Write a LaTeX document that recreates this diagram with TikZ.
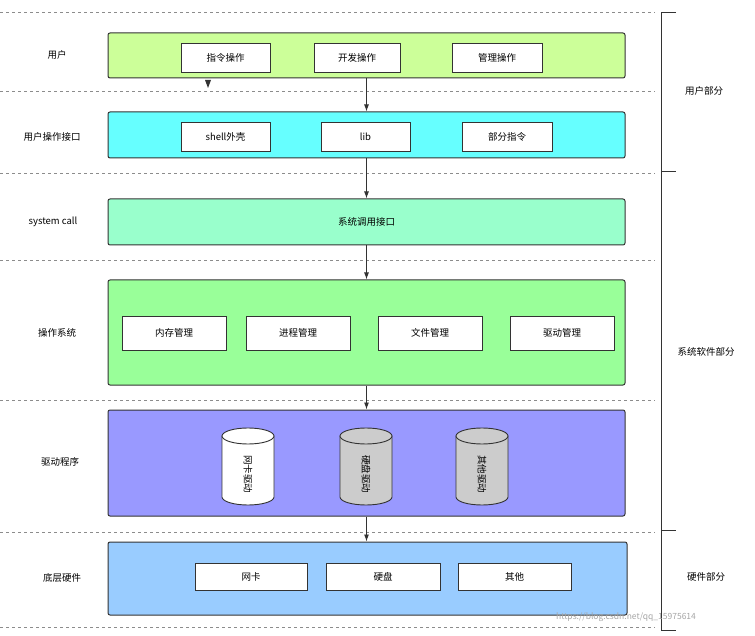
\documentclass[tikz,border=0pt]{standalone}
\usepackage{fontspec}
\setmainfont{Noto Sans CJK SC}
\usetikzlibrary{arrows.meta}
\begin{document}
\begin{tikzpicture}[x=1pt,y=-1pt,font=\fontsize{9.5}{11}\selectfont,
 layer/.style={draw=black!80,line width=1pt,rounded corners=2pt},
 inner/.style={draw=black!80,line width=0.8pt,fill=white,minimum height=29pt,inner sep=0pt},
 dline/.style={draw=black!45,dashed,line width=0.5pt},
 arr/.style={draw=black!80,line width=0.9pt,-{Latex[length=7pt,width=5pt]}}]
\useasboundingbox (0,0) rectangle (755,636);
\foreach \y in {12,91,173,260,400,532,627} \draw[dline] (0,\y) -- (655,\y);
% bracket
\draw[black!80,line width=0.9pt] (676,12) -- (661,12) -- (661,530) -- (676,530);
\draw[black!80,line width=0.9pt] (661,171) -- (676,171);
\draw[black!80,line width=0.9pt] (661,530) -- (661,630) -- (676,630);
\node (p1) at (704,91) {用户部分};
\node (p2) at (706,352) {系统软件部分};
\node (p3) at (706,577) {硬件部分};
% layers
\node[layer,fill={rgb,255:red,204;green,255;blue,153},minimum width=517pt,minimum height=45pt] (L1) at (366.5,55.5) {};
\node[layer,fill={rgb,255:red,102;green,255;blue,255},minimum width=517pt,minimum height=46pt] (L2) at (366.5,135) {};
\node[layer,fill={rgb,255:red,153;green,255;blue,204},minimum width=517pt,minimum height=46pt] (L3) at (366.5,222) {系统调用接口};
\node[layer,fill={rgb,255:red,153;green,255;blue,153},minimum width=517pt,minimum height=105pt] (L4) at (366.5,332.5) {};
\node[layer,fill={rgb,255:red,153;green,153;blue,255},minimum width=517pt,minimum height=106pt] (L5) at (366.5,463) {};
\node[layer,fill={rgb,255:red,153;green,204;blue,255},minimum width=519pt,minimum height=73pt] (L6) at (367.5,578.5) {};
% left labels
\node (t1) at (57,55) {用户};
\node (t2) at (52,137) {用户操作接口};
\node (t3) at (53,222) {system call};
\node (t4) at (57,333) {操作系统};
\node (t5) at (60,462) {驱动程序};
\node (t6) at (62,578) {底层硬件};
% inner boxes
\node[inner,minimum width=89pt] (a1) at (225.5,57.5) {指令操作};
\node[inner,minimum width=86pt] (a2) at (357,57.5) {开发操作};
\node[inner,minimum width=90pt] (a3) at (497,57.5) {管理操作};
\node[inner,minimum width=89pt] (b1) at (225.5,137) {shell外壳};
\node[inner,minimum width=89pt] (b2) at (365.5,137) {lib};
\node[inner,minimum width=90pt] (b3) at (507,137) {部分指令};
\node[inner,minimum width=104pt,minimum height=34pt] (c1) at (174,333) {内存管理};
\node[inner,minimum width=104pt,minimum height=34pt] (c2) at (298,333) {进程管理};
\node[inner,minimum width=104pt,minimum height=34pt] (c3) at (430,333) {文件管理};
\node[inner,minimum width=104pt,minimum height=34pt] (c4) at (562,333) {驱动管理};
\node[inner,minimum width=112pt,minimum height=27pt] (d1) at (251,576.5) {网卡};
\node[inner,minimum width=114pt,minimum height=27pt] (d2) at (383,576.5) {硬盘};
\node[inner,minimum width=113pt,minimum height=27pt] (d3) at (514.5,576.5) {其他};
% cylinders
\foreach \cx/\f/\t/\n in {248/white/网卡驱动/k1,366/black!20/硬盘驱动/k2,482/black!20/其他驱动/k3}{
 \draw[black!80,line width=0.9pt,fill=\f] (\cx-26,436) -- (\cx-26,497) arc[start angle=180,end angle=360,x radius=26,y radius=-8] -- (\cx+26,436) -- cycle;
 \draw[black!80,line width=0.9pt,fill=\f] (\cx,436) ellipse[x radius=26,y radius=8];
 \node[rotate=-90] (\n) at (\cx,474) {\t};
}
% arrows
\fill[black!80] (205,80) -- (211,80) -- (208,88) -- cycle;
\draw[arr] (L1.south) -- (L2.north);
\draw[arr] (L2.south) -- (L3.north);
\draw[arr] (L3.south) -- (L4.north);
\draw[arr] (L4.south) -- (L5.north);
\draw[arr] (L5.south) -- (L5.south |- L6.north);
\node[black!35,font=\fontsize{8.5}{9}\selectfont] (wm) at (626,617) {https://blog.csdn.net/qq\_15975614};
\end{tikzpicture}
\end{document}
